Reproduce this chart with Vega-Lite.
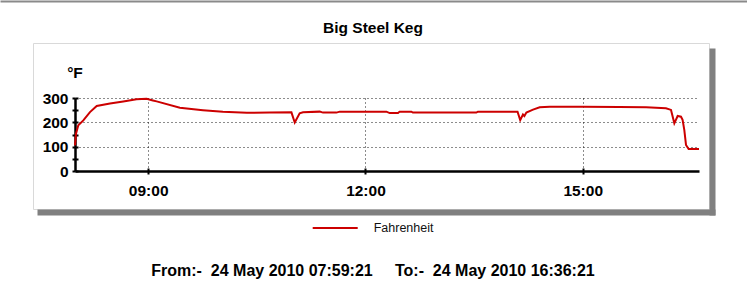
{
  "$schema": "https://vega.github.io/schema/vega-lite/v6.json",
  "autosize": "none",
  "width": 676,
  "height": 166,
  "padding": {"left": 33, "top": 43, "right": 38, "bottom": 78},
  "background": "white",
  "title": {
    "text": "Big Steel Keg",
    "font": "Liberation Sans",
    "fontSize": 15.5,
    "fontWeight": "bold",
    "color": "black",
    "anchor": "middle",
    "frame": "group",
    "baseline": "alphabetic",
    "offset": -47,
    "dx": 2
  },
  "data": {
    "values": [
      {"t": "2010-05-24T07:59:21", "v": 105},
      {"t": "2010-05-24T08:00:10", "v": 153},
      {"t": "2010-05-24T08:02:05", "v": 188},
      {"t": "2010-05-24T08:06:15", "v": 208},
      {"t": "2010-05-24T08:11:45", "v": 242},
      {"t": "2010-05-24T08:17:20", "v": 267},
      {"t": "2010-05-24T08:28:20", "v": 277},
      {"t": "2010-05-24T08:39:20", "v": 286},
      {"t": "2010-05-24T08:50:20", "v": 295},
      {"t": "2010-05-24T08:58:40", "v": 297},
      {"t": "2010-05-24T09:03:55", "v": 290},
      {"t": "2010-05-24T09:07:00", "v": 286},
      {"t": "2010-05-24T09:26:15", "v": 260},
      {"t": "2010-05-24T09:45:20", "v": 250},
      {"t": "2010-05-24T10:01:50", "v": 243},
      {"t": "2010-05-24T10:21:40", "v": 239},
      {"t": "2010-05-24T10:40:45", "v": 240},
      {"t": "2010-05-24T10:58:40", "v": 241},
      {"t": "2010-05-24T11:01:25", "v": 199},
      {"t": "2010-05-24T11:05:30", "v": 237},
      {"t": "2010-05-24T11:08:15", "v": 241},
      {"t": "2010-05-24T11:22:05", "v": 244},
      {"t": "2010-05-24T11:24:50", "v": 240},
      {"t": "2010-05-24T11:35:55", "v": 240},
      {"t": "2010-05-24T11:38:40", "v": 244},
      {"t": "2010-05-24T12:17:20", "v": 244},
      {"t": "2010-05-24T12:20:05", "v": 238},
      {"t": "2010-05-24T12:27:00", "v": 238},
      {"t": "2010-05-24T12:28:20", "v": 244},
      {"t": "2010-05-24T12:38:00", "v": 244},
      {"t": "2010-05-24T12:39:20", "v": 240},
      {"t": "2010-05-24T13:31:50", "v": 240},
      {"t": "2010-05-24T13:33:10", "v": 244},
      {"t": "2010-05-24T14:06:00", "v": 244},
      {"t": "2010-05-24T14:08:14", "v": 209},
      {"t": "2010-05-24T14:10:30", "v": 232},
      {"t": "2010-05-24T14:11:40", "v": 226},
      {"t": "2010-05-24T14:13:20", "v": 240},
      {"t": "2010-05-24T14:18:50", "v": 252},
      {"t": "2010-05-24T14:24:20", "v": 262},
      {"t": "2010-05-24T14:32:40", "v": 264},
      {"t": "2010-05-24T15:00:00", "v": 264},
      {"t": "2010-05-24T15:30:00", "v": 263},
      {"t": "2010-05-24T15:52:30", "v": 262},
      {"t": "2010-05-24T16:09:00", "v": 258},
      {"t": "2010-05-24T16:13:10", "v": 251},
      {"t": "2010-05-24T16:15:55", "v": 196},
      {"t": "2010-05-24T16:18:40", "v": 226},
      {"t": "2010-05-24T16:21:25", "v": 223},
      {"t": "2010-05-24T16:22:45", "v": 210},
      {"t": "2010-05-24T16:24:10", "v": 169},
      {"t": "2010-05-24T16:25:35", "v": 107},
      {"t": "2010-05-24T16:27:45", "v": 90},
      {"t": "2010-05-24T16:36:21", "v": 90}
    ]
  },
  "layer": [
    {
      "mark": {"type": "line", "strokeWidth": 2, "clip": false},
      "encoding": {
        "x": {
          "field": "t",
          "type": "temporal",
          "scale": {
            "domain": [
              {"year": 2010, "month": 5, "date": 24, "hours": 7, "minutes": 59, "seconds": 21},
              {"year": 2010, "month": 5, "date": 24, "hours": 16, "minutes": 36, "seconds": 21}
            ],
            "range": [42, 666]
          },
          "axis": {
            "orient": "top",
            "offset": -128,
            "values": [
              {"year": 2010, "month": 5, "date": 24, "hours": 9, "minutes": 0},
              {"year": 2010, "month": 5, "date": 24, "hours": 12, "minutes": 0},
              {"year": 2010, "month": 5, "date": 24, "hours": 15, "minutes": 0}
            ],
            "labels": false,
            "domain": false,
            "ticks": true,
            "tickSize": 3,
            "tickWidth": 2,
            "tickColor": "black",
            "grid": true,
            "gridColor": "black",
            "gridDash": [1, 3],
            "gridWidth": 1,
            "gridOpacity": 0.9,
            "title": null
          }
        },
        "y": {
          "field": "v",
          "type": "quantitative",
          "scale": {"domain": [0, 300], "range": [128, 55], "nice": false},
          "axis": {
            "orient": "left",
            "offset": -42,
            "values": [0, 50, 100, 150, 200, 250, 300],
            "labelExpr": "datum.value % 100 === 0 ? datum.label : ''",
            "labelFont": "Liberation Sans",
            "labelFontSize": 15.5,
            "labelFontWeight": "bold",
            "labelColor": "black",
            "labelPadding": 4,
            "tickSize": 3,
            "tickWidth": 2,
            "tickColor": "black",
            "domainColor": "black",
            "domainWidth": 2.5,
            "grid": true,
            "gridColor": "black",
            "gridDash": [1, 3],
            "gridWidth": 1,
            "gridOpacity": {"condition": {"test": "datum.value % 100 === 0 && datum.value > 0", "value": 0.9}, "value": 0},
            "title": "°F",
            "titleFont": "Liberation Sans",
            "titleFontSize": 15.5,
            "titleFontWeight": "bold",
            "titleColor": "black",
            "titleAngle": 0,
            "titleAlign": "center",
            "titleBaseline": "middle",
            "titleX": -0.5,
            "titleY": 29.5
          }
        },
        "color": {
          "datum": "Fahrenheit",
          "type": "nominal",
          "scale": {"range": ["#cc0000"]},
          "legend": {
            "orient": "none",
            "legendX": 278.7,
            "legendY": 161.5,
            "title": null,
            "padding": 0,
            "symbolType": "stroke",
            "symbolSize": 2025,
            "symbolStrokeWidth": 2,
            "labelFont": "Liberation Sans",
            "labelFontSize": 12.5,
            "labelColor": "#111111",
            "labelOffset": 15
          }
        }
      }
    },
    {
      "mark": {"type": "line", "opacity": 0},
      "encoding": {
        "x": {
          "field": "t",
          "type": "temporal",
          "scale": {
            "domain": [
              {"year": 2010, "month": 5, "date": 24, "hours": 7, "minutes": 59, "seconds": 21},
              {"year": 2010, "month": 5, "date": 24, "hours": 16, "minutes": 36, "seconds": 21}
            ],
            "range": [42, 666]
          },
          "axis": {
            "orient": "bottom",
            "offset": -38,
            "values": [
              {"year": 2010, "month": 5, "date": 24, "hours": 9, "minutes": 0},
              {"year": 2010, "month": 5, "date": 24, "hours": 12, "minutes": 0},
              {"year": 2010, "month": 5, "date": 24, "hours": 15, "minutes": 0}
            ],
            "format": "%H:%M",
            "labelFont": "Liberation Sans",
            "labelFontSize": 15.5,
            "labelFontWeight": "bold",
            "labelColor": "black",
            "labelPadding": 9,
            "labelFlush": false,
            "tickSize": 3,
            "tickWidth": 2,
            "tickColor": "black",
            "domainColor": "black",
            "domainWidth": 2.5,
            "grid": false,
            "title": "From:-\u00a0\u00a024 May 2010 07:59:21\u00a0\u00a0\u00a0\u00a0\u00a0To:-\u00a0\u00a024 May 2010 16:36:21",
            "titleFont": "Liberation Sans",
            "titleFontSize": 16,
            "titleFontWeight": "bold",
            "titleColor": "black",
            "titleX": 339.5,
            "titleY": 99,
            "titleAlign": "center",
            "titleBaseline": "middle"
          }
        },
        "y": {
          "field": "v",
          "type": "quantitative",
          "scale": {"domain": [0, 300], "range": [128, 55], "nice": false},
          "axis": {
            "orient": "right",
            "offset": -634,
            "values": [0, 50, 100, 150, 200, 250, 300],
            "labels": false,
            "domain": false,
            "grid": false,
            "tickSize": 3,
            "tickWidth": 2,
            "tickColor": "black",
            "title": null
          }
        }
      }
    },
    {
      "mark": {"type": "line", "opacity": 0},
      "encoding": {
        "x": {
          "field": "t",
          "type": "temporal",
          "scale": {
            "domain": [
              {"year": 2010, "month": 5, "date": 24, "hours": 7, "minutes": 59, "seconds": 21},
              {"year": 2010, "month": 5, "date": 24, "hours": 16, "minutes": 36, "seconds": 21}
            ],
            "range": [4, 682]
          },
          "axis": {"orient": "bottom", "offset": 3, "domainColor": "#808080", "domainWidth": 6, "ticks": false, "labels": false, "grid": false, "title": null}
        },
        "y": {
          "field": "v",
          "type": "quantitative",
          "scale": {"domain": [0, 300], "range": [172, 5], "nice": false},
          "axis": {"orient": "right", "offset": 3, "domainColor": "#808080", "domainWidth": 6, "ticks": false, "labels": false, "grid": false, "title": null}
        }
      }
    },
    {
      "mark": {"type": "point", "opacity": 0},
      "encoding": {
        "x": {
          "field": "t",
          "type": "temporal",
          "scale": {
            "domain": [
              {"year": 2010, "month": 5, "date": 24, "hours": 7, "minutes": 59, "seconds": 21},
              {"year": 2010, "month": 5, "date": 24, "hours": 16, "minutes": 36, "seconds": 21}
            ],
            "range": [-33, 714]
          },
          "axis": {"orient": "top", "offset": 42, "domainColor": "#8a8a8a", "domainWidth": 2, "ticks": false, "labels": false, "grid": false, "title": null}
        }
      }
    }
  ],
  "resolve": {
    "scale": {"x": "independent", "y": "independent"},
    "axis": {"x": "independent", "y": "independent"}
  },
  "config": {
    "view": {"stroke": "#d9d9d9", "strokeWidth": 1},
    "font": "Liberation Sans"
  }
}
